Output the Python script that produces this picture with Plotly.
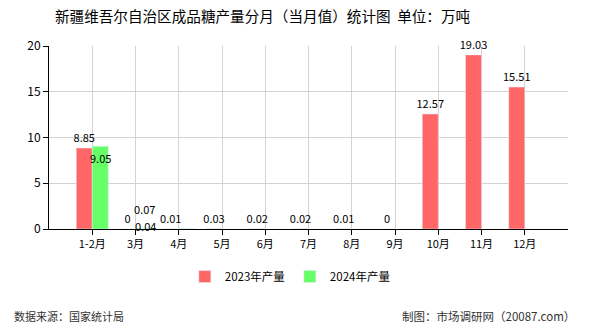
import plotly.graph_objects as go

categories = ["1-2月", "3月", "4月", "5月", "6月", "7月", "8月", "9月", "10月", "11月", "12月"]
values_2023 = [8.85, 0, 0.01, 0.03, 0.02, 0.02, 0.01, 0, 12.57, 19.03, 15.51]
values_2024 = [9.05, 0.07, 0.04]
y_ticks = [0, 5, 10, 15, 20]

# label placement offsets (px) for 2024 labels, mimicking the reference's overlap handling
label_shift_2024 = [(0, -12), (1, 19), (-41, 3)]

FONT = "Noto Sans CJK SC, DejaVu Sans, sans-serif"

fig = go.Figure()
fig.add_trace(go.Bar(
    name="2023年产量", x=categories, y=values_2023,
    marker_color="#FF6666",
    text=[f"{v:g}" for v in values_2023],
    textposition="outside", cliponaxis=False,
    textangle=0, constraintext="none",
    textfont=dict(size=11, color="#000000", family=FONT),
))
fig.add_trace(go.Bar(
    name="2024年产量", x=categories[:len(values_2024)], y=values_2024,
    marker_color="#66FF66",
))

for cat, v, (dx, dy) in zip(categories, values_2024, label_shift_2024):
    fig.add_annotation(x=cat, y=v, text=f"{v:g}", showarrow=False,
                       xshift=8 + dx, yshift=dy, yanchor="middle", borderpad=0,
                       font=dict(size=11, color="#000000", family=FONT))

fig.update_layout(
    width=590, height=330,
    margin=dict(l=49, r=22, t=46, b=101),
    paper_bgcolor="white", plot_bgcolor="white",
    barmode="group", bargap=0.26, bargroupgap=0,
    font=dict(family=FONT, size=11, color="#000000"),
    title=dict(text="新疆维吾尔自治区成品糖产量分月（当月值）统计图  单位：万吨",
               x=0.445, xanchor="center", y=0.948, yanchor="middle",
               font=dict(size=14.6, color="#000000", family=FONT)),
    legend=dict(orientation="h", x=0.465, xanchor="center", y=-0.26, yanchor="middle",
                font=dict(size=11.5, family=FONT), traceorder="normal"),
    showlegend=True,
)
fig.update_xaxes(
    type="category", range=[-1, 11],
    showline=True, linecolor="#000000", linewidth=1,
    showgrid=True, gridcolor="#D3D3D3",
    ticks="outside", ticklen=5, tickcolor="#000000",
    tickfont=dict(size=11, family=FONT),
)
fig.update_yaxes(
    range=[0, 20], tickvals=y_ticks,
    showline=True, linecolor="#000000", linewidth=1,
    showgrid=True, gridcolor="#D3D3D3",
    ticks="outside", ticklen=5, tickcolor="#000000",
    tickfont=dict(size=12, family=FONT), zeroline=False,
)
fig.add_annotation(text="数据来源：国家统计局", xref="paper", yref="paper",
                   x=-0.071, y=-0.475, xanchor="left", yanchor="middle",
                   showarrow=False, font=dict(size=11, color="#333333", family=FONT))
fig.add_annotation(text="制图：市场调研网（20087.com）", xref="paper", yref="paper",
                   x=1.017, y=-0.475, xanchor="right", yanchor="middle",
                   showarrow=False, font=dict(size=11.5, color="#333333", family=FONT))

fig.write_html("out.html")
